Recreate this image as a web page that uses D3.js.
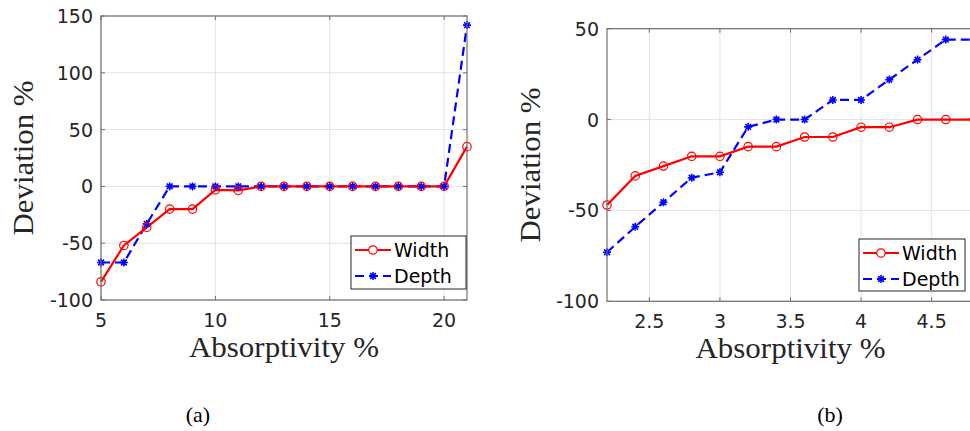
<!DOCTYPE html>
<html>
<head>
<meta charset="utf-8">
<script src="https://cdn.jsdelivr.net/npm/d3@7"></script>
<style>
  body { margin: 0; background: #fff; }
  svg { display: block; }
</style>
</head>
<body>
<script>
// panel (a)
const absA = [5, 6, 7, 8, 9, 10, 11, 12, 13, 14, 15, 16, 17, 18, 19, 20, 21];
const widthA = [-84, -52, -36, -20, -20, -3, -3.5, 0, 0, 0, 0, 0, 0, 0, 0, 0, 35];
const depthA = [-67, -67, -33, 0, 0, 0, 0, 0, 0, 0, 0, 0, 0, 0, 0, 0, 142];
const xTicksA = [5, 10, 15, 20];
const yTicksA = [-100, -50, 0, 50, 100, 150];

// panel (b)
const absB = [2.2, 2.4, 2.6, 2.8, 3.0, 3.2, 3.4, 3.6, 3.8, 4.0, 4.2, 4.4, 4.6, 4.8];
const widthB = [-47, -31, -25.6, -20.2, -20.2, -14.9, -14.9, -9.6, -9.6, -4.2, -4.2, 0, 0, 0];
const depthB = [-73, -59, -45.5, -32, -29, -4, 0, 0, 10.8, 10.8, 22, 33, 44, 44];
const xTicksB = [2.5, 3, 3.5, 4, 4.5];
const yTicksB = [-100, -50, 0, 50];

const seriesNames = ["Width", "Depth"];

const W = 970, H = 431;
const svg = d3.select("body").append("svg")
  .attr("width", W).attr("height", H);

const axisColor = "#262626";
const tickFont = "DejaVu Sans, sans-serif";
const labelFont = "Liberation Serif, serif";

// MATLAB-ish asterisk marker
function starPath(r) {
  const d = r * 0.72;
  return `M${-r},0L${r},0M0,${-r}L0,${r}M${-d},${-d}L${d},${d}M${-d},${d}L${d},${-d}`;
}

function drawPanel(p) {
  const x = d3.scaleLinear().domain(p.xDomain).range([p.left, p.right]);
  const y = d3.scaleLinear().domain(p.yDomain).range([p.bottom, p.top]);
  const g = svg.append("g");

  // grid
  g.selectAll(".gx").data(p.xTicks).enter().append("line")
    .attr("x1", d => x(d)).attr("x2", d => x(d))
    .attr("y1", p.top).attr("y2", p.bottom)
    .attr("stroke", "#e3e3e3").attr("stroke-width", 1);
  g.selectAll(".gy").data(p.yTicks).enter().append("line")
    .attr("x1", p.left).attr("x2", p.right)
    .attr("y1", d => y(d)).attr("y2", d => y(d))
    .attr("stroke", "#e3e3e3").attr("stroke-width", 1);

  // clip for data
  const clipId = "clip" + p.id;
  svg.append("clipPath").attr("id", clipId).append("rect")
    .attr("x", p.left - 6).attr("y", p.top - 6)
    .attr("width", p.right - p.left + 12).attr("height", p.bottom - p.top + 12);
  const dg = g.append("g").attr("clip-path", `url(#${clipId})`);

  const line = d3.line().x(d => x(d[0])).y(d => y(d[1]));
  const wPts = p.xs.map((v, i) => [v, p.width[i]]);
  const dPts = p.xs.map((v, i) => [v, p.depth[i]]);

  dg.append("path").datum(dPts).attr("d", line)
    .attr("fill", "none").attr("stroke", "#0000ff").attr("stroke-width", 2.2)
    .attr("stroke-dasharray", "9,5");
  dg.append("path").datum(wPts).attr("d", line)
    .attr("fill", "none").attr("stroke", "#ff0000").attr("stroke-width", 2.2);

  dg.selectAll(".dm").data(dPts).enter().append("path")
    .attr("transform", d => `translate(${x(d[0])},${y(d[1])})`)
    .attr("d", starPath(4)).attr("stroke", "#0000ff").attr("stroke-width", 1.6)
    .attr("fill", "none");
  dg.selectAll(".wm").data(wPts).enter().append("circle")
    .attr("cx", d => x(d[0])).attr("cy", d => y(d[1])).attr("r", 4.2)
    .attr("fill", "none").attr("stroke", "#ff0000").attr("stroke-width", 1.2);

  // box
  g.append("rect")
    .attr("x", p.left).attr("y", p.top)
    .attr("width", p.right - p.left).attr("height", p.bottom - p.top)
    .attr("fill", "none").attr("stroke", "#707070").attr("stroke-width", 1.2);

  // ticks (inward, mirrored)
  const tl = 4;
  p.xTicks.forEach(t => {
    g.append("line").attr("x1", x(t)).attr("x2", x(t))
      .attr("y1", p.bottom).attr("y2", p.bottom - tl).attr("stroke", "#707070");
    g.append("line").attr("x1", x(t)).attr("x2", x(t))
      .attr("y1", p.top).attr("y2", p.top + tl).attr("stroke", "#707070");
  });
  p.yTicks.forEach(t => {
    g.append("line").attr("x1", p.left).attr("x2", p.left + tl)
      .attr("y1", y(t)).attr("y2", y(t)).attr("stroke", "#707070");
    g.append("line").attr("x1", p.right).attr("x2", p.right - tl)
      .attr("y1", y(t)).attr("y2", y(t)).attr("stroke", "#707070");
  });

  // tick labels
  g.selectAll(".xl").data(p.xTicks).enter().append("text")
    .attr("x", d => x(d)).attr("y", p.bottom + 27)
    .attr("text-anchor", "middle")
    .attr("font-family", tickFont).attr("font-size", 19).attr("fill", axisColor)
    .text(d => d);
  g.selectAll(".yl").data(p.yTicks).enter().append("text")
    .attr("x", p.left - 8).attr("y", d => y(d) + 7)
    .attr("text-anchor", "end")
    .attr("font-family", tickFont).attr("font-size", 19).attr("fill", axisColor)
    .text(d => d);

  // axis labels
  g.append("text")
    .attr("x", (p.left + p.right) / 2).attr("y", p.bottom + 57)
    .attr("text-anchor", "middle")
    .attr("font-family", labelFont).attr("font-size", 29).attr("fill", axisColor)
    .attr("textLength", 190).attr("lengthAdjust", "spacingAndGlyphs")
    .text("Absorptivity %");
  g.append("text")
    .attr("transform", `translate(${p.yLabelX},${(p.top + p.bottom) / 2}) rotate(-90)`)
    .attr("text-anchor", "middle")
    .attr("font-family", labelFont).attr("font-size", 29).attr("fill", axisColor)
    .attr("textLength", 155).attr("lengthAdjust", "spacingAndGlyphs")
    .text("Deviation %");

  // legend
  const L = p.legend;
  const lg = g.append("g");
  lg.append("rect").attr("x", L.x).attr("y", L.y).attr("width", L.w).attr("height", L.h)
    .attr("fill", "#fff").attr("stroke", "#262626").attr("stroke-width", 1);
  const rows = [L.y + 14, L.y + 40];
  seriesNames.forEach((name, i) => {
    const ry = rows[i];
    const lx0 = L.x + 4, lx1 = L.x + 40, mx = (lx0 + lx1) / 2;
    if (i === 0) {
      lg.append("line").attr("x1", lx0).attr("x2", lx1).attr("y1", ry).attr("y2", ry)
        .attr("stroke", "#ff0000").attr("stroke-width", 2.2);
      lg.append("circle").attr("cx", mx).attr("cy", ry).attr("r", 4.2)
        .attr("fill", "#fff").attr("stroke", "#ff0000").attr("stroke-width", 1.2);
    } else {
      lg.append("line").attr("x1", lx0).attr("x2", lx1).attr("y1", ry).attr("y2", ry)
        .attr("stroke", "#0000ff").attr("stroke-width", 2.2).attr("stroke-dasharray", "9,5");
      lg.append("path").attr("transform", `translate(${mx},${ry})`)
        .attr("d", starPath(4)).attr("stroke", "#0000ff").attr("stroke-width", 1.6);
    }
    lg.append("text").attr("x", L.x + 43).attr("y", ry + 7)
      .attr("font-family", tickFont).attr("font-size", 19).attr("fill", "#000")
      .text(name);
  });

  // caption
  svg.append("text").attr("x", p.capX).attr("y", 422)
    .attr("text-anchor", "middle")
    .attr("font-family", "Liberation Serif, serif").attr("font-size", 22).attr("fill", "#000")
    .text(p.caption);
}

drawPanel({
  id: "a", xs: absA, width: widthA, depth: depthA,
  xDomain: [5, 21], yDomain: [-100, 150],
  left: 101, right: 467, top: 16, bottom: 300,
  xTicks: xTicksA, yTicks: yTicksA,
  yLabelX: 33,
  legend: { x: 351, y: 236, w: 115, h: 53 },
  caption: "(a)", capX: 198
});

drawPanel({
  id: "b", xs: absB, width: widthB, depth: depthB,
  xDomain: [2.2, 4.8], yDomain: [-100, 50],
  left: 607, right: 974, top: 28.7, bottom: 301.3,
  xTicks: xTicksB, yTicks: yTicksB,
  yLabelX: 540,
  legend: { x: 859, y: 239, w: 106, h: 52 },
  caption: "(b)", capX: 830
});
</script>
</body>
</html>
